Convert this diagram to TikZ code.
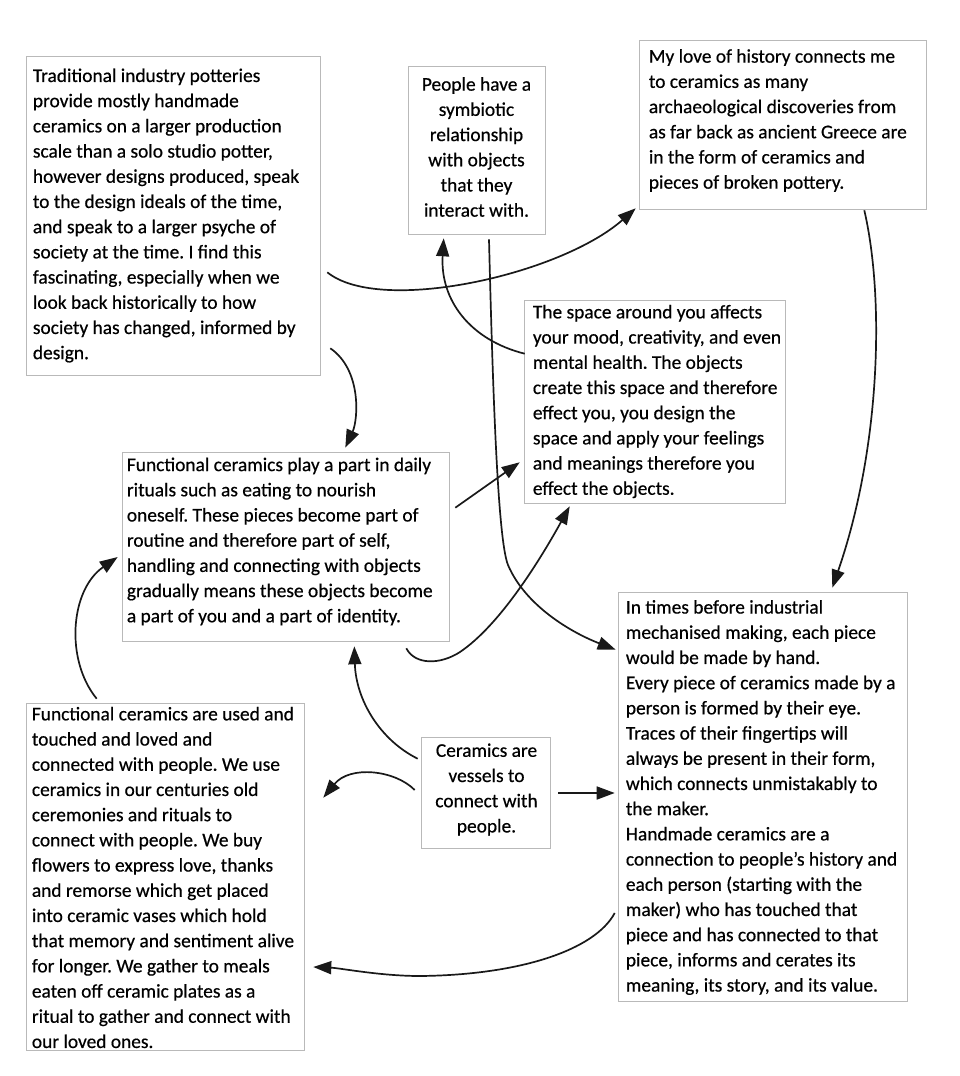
\documentclass[tikz,border=0pt]{standalone}
\usepackage{fontspec}
\setmainfont{Carlito}[FakeBold=0.5]
\usetikzlibrary{arrows.meta}
\frenchspacing
\begin{document}
\begin{tikzpicture}[x=1pt,y=-1pt,
  box/.style={draw=gray!55,line width=0.6pt,fill=white,inner sep=0pt},
  txt/.style={inner sep=0pt,font=\fontsize{19.4}{25.2}\selectfont,align=left,text=black},
  ctxt/.style={txt,align=center},
  arr/.style={line width=1.7pt,draw=black!90,-{Triangle[length=18pt,width=13pt]}}]
\fill[white] (0,0) rectangle (960,1076);
\useasboundingbox (0,0) rectangle (960,1076);

% boxes
\node[box,minimum width=294pt,minimum height=319pt] (A) at (173,215.5) {};
\node[box,minimum width=137pt,minimum height=168pt] (B) at (476.5,150) {};
\node[box,minimum width=287pt,minimum height=169pt] (C) at (782.5,124.5) {};
\node[box,minimum width=261pt,minimum height=203pt] (D) at (654.5,401.5) {};
\node[box,minimum width=327pt,minimum height=189pt] (E) at (285.5,546.5) {};
\node[box,minimum width=278pt,minimum height=347pt] (F) at (165,876.5) {};
\node[box,minimum width=129pt,minimum height=111pt] (G) at (485.5,792.5) {};
\node[box,minimum width=289pt,minimum height=409pt] (H) at (762.5,796.5) {};

% texts
\node[txt,anchor=west] (tA) at ([xshift=7pt]A.west) {Traditional industry potteries\\provide mostly handmade\\ceramics on a larger production\\scale than a solo studio potter,\\however designs produced, speak\\to the design ideals of the time,\\and speak to a larger psyche of\\society at the time. I find this\\fascinating, especially when we\\look back historically to how\\society has changed, informed by\\design.};
\node[ctxt] (tB) at ([yshift=3pt]B.center) {People have a\\symbiotic\\relationship\\with objects\\that they\\interact with.};
\node[txt,anchor=west] (tC) at ([xshift=10pt,yshift=4pt]C.west) {My love of history connects me\\to ceramics as many\\archaeological discoveries from\\as far back as ancient Greece are\\in the form of ceramics and\\pieces of broken pottery.};
\node[txt,anchor=west] (tD) at ([xshift=9pt]D.west) {The space around you affects\\your mood, creativity, and even\\mental health. The objects\\create this space and therefore\\effect you, you design the\\space and apply your feelings\\and meanings therefore you\\effect the objects.};
\node[txt,anchor=west] (tE) at ([xshift=5pt,yshift=5pt]E.west) {Functional ceramics play a part in daily\\rituals such as eating to nourish\\oneself. These pieces become part of\\routine and therefore part of self,\\handling and connecting with objects\\gradually means these objects become\\a part of you and a part of identity.};
\node[txt,anchor=west] (tF) at ([xshift=6pt,yshift=-1pt]F.west) {Functional ceramics are used and\\touched and loved and\\connected with people. We use\\ceramics in our centuries old\\ceremonies and rituals to\\connect with people. We buy\\flowers to express love, thanks\\and remorse which get placed\\into ceramic vases which hold\\that memory and sentiment alive\\for longer. We gather to meals\\eaten off ceramic plates as a\\ritual to gather and connect with\\our loved ones.};
\node[ctxt] (tG) at ([xshift=1pt,yshift=3pt]G.center) {Ceramics are\\vessels to\\connect with\\people.};
\node[txt,anchor=west] (tH) at ([xshift=8pt,yshift=-1pt]H.west) {In times before industrial\\mechanised making, each piece\\would be made by hand.\\Every piece of ceramics made by a\\person is formed by their eye.\\Traces of their fingertips will\\always be present in their form,\\which connects unmistakably to\\the maker.\\Handmade ceramics are a\\connection to people’s history and\\each person (starting with the\\maker) who has touched that\\piece and has connected to that\\piece, informs and cerates its\\meaning, its story, and its value.};

% connectors
\draw[arr] ([shift={(7,-103)}]A.south east) .. controls (380,315) and (560,275) .. ([shift={(-3,-1)}]C.south west);
\draw[arr] ([shift={(10,-27)}]A.south east) .. controls (362,370) and (358,420) .. ([shift={(-104,-4)}]E.north east);
\draw[arr] ([shift={(1,54)}]D.north west) .. controls (470,340) and (440,300) .. ([shift={(36,4)}]B.south west);
\draw[arr] ([shift={(12.5,5)}]B.south) .. controls (493,400) and (498,540) .. (508,565) .. controls (525,605) and (570,632) .. ([shift={(-2,58)}]H.north west);
\draw[arr] ([shift={(-62,1)}]C.south east) .. controls (885,300) and (880,450) .. ([shift={(-75,-4)}]H.north east);
\draw[arr] ([shift={(6,56)}]E.north east) -- ([shift={(-4,-41)}]D.south west);
\draw[arr] ([shift={(-43,7)}]E.south east) .. controls (415,665) and (440,665) .. (460,652) .. controls (500,625) and (540,560) .. ([shift={(46,3)}]D.south west);
\draw[arr] ([shift={(71,-4)}]F.north west) .. controls (65,660) and (70,590) .. ([shift={(-4,10.5)}]E.west);
\draw[arr] ([shift={(-3,22)}]G.north west) .. controls (380,740) and (356,700) .. ([shift={(-95,5)}]E.south east);
\draw[arr] ([shift={(-6,-2.5)}]G.west) .. controls (395,770) and (350,765) .. ([shift={(19,95)}]F.north east);
\draw[arr] ([shift={(8,0.5)}]G.east) -- ([shift={(-3,-3.5)}]H.west);
\draw[arr] ([shift={(-3,116.5)}]H.west) .. controls (595,950) and (520,975) .. (420,976) .. controls (380,976) and (340,968) .. ([shift={(9,90.5)}]F.east);
\end{tikzpicture}
\end{document}
